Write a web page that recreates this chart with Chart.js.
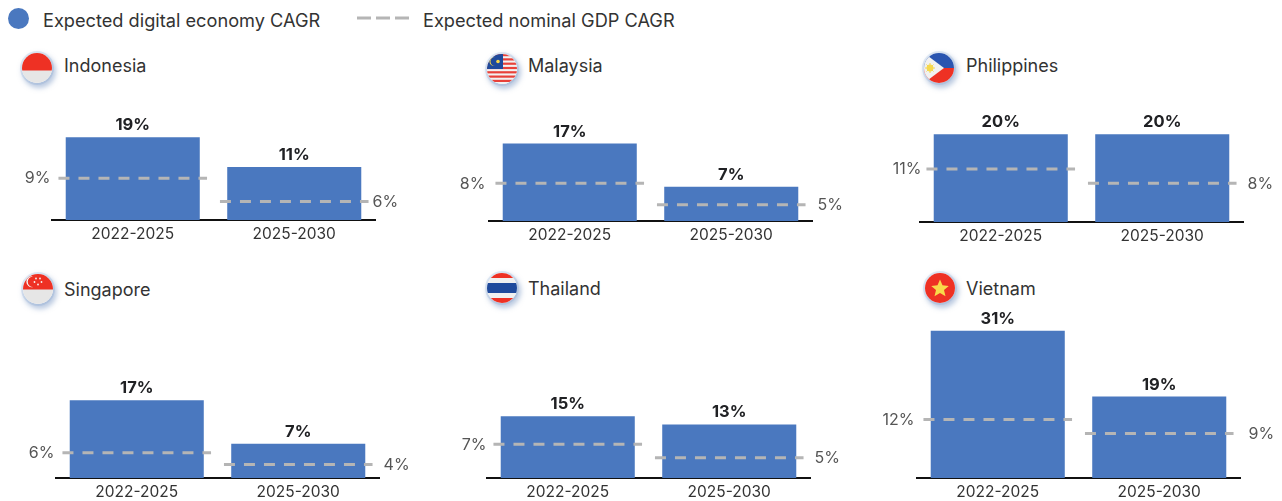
<!DOCTYPE html>
<html><head><meta charset="utf-8">
<style>
html,body{margin:0;padding:0;background:#fff;width:1282px;height:501px;overflow:hidden}
body{position:relative;font-family:Inter,Roboto,Arial,sans-serif;color:#333}
canvas{position:absolute;display:block}
.t{position:absolute;white-space:nowrap;line-height:20px;height:20px}
.flag{position:absolute;width:30px;height:30px;border-radius:50%;box-shadow:2px 3px 5px 2px rgba(120,150,195,.5),0 0 0 2px #e4ecf6}
.flag svg{display:block;width:30px;height:30px;border-radius:50%}
</style></head><body>
<div style="position:absolute;left:8px;top:8px;width:21px;height:21px;border-radius:50%;background:#4a78bf"></div>
<div class="t" id="lg1" style="left:43px;top:10px;font-size:18.2px">Expected digital economy CAGR</div>
<svg style="position:absolute;left:355px;top:15px" width="56" height="6"><line x1="2" y1="3" x2="54" y2="3" stroke="#b5b5b5" stroke-width="3" stroke-dasharray="14 5"/></svg>
<div class="t" id="lg2" style="left:423px;top:10px;font-size:18.2px">Expected nominal GDP CAGR</div>
<div id="host"></div>
<script src="https://cdn.jsdelivr.net/npm/chart.js@4/dist/chart.umd.min.js"></script>
<script>
// ---- data ----
const countries = ["Indonesia","Malaysia","Philippines","Singapore","Thailand","Vietnam"];
const periods = ["2022-2025","2025-2030"];
// printed labels
const digitalLabels = [["19%","11%"],["17%","7%"],["20%","20%"],["17%","7%"],["15%","13%"],["31%","19%"]];
const gdpLabels = [["9%","6%"],["8%","5%"],["11%","8%"],["6%","4%"],["7%","5%"],["12%","9%"]];
// drawn heights (the source slide is not strictly to scale with its labels)
const indonesiaDigital = [18.4,11.8],  indonesiaGdp = [9.3,4.1];
const malaysiaDigital = [17.2,7.6],    malaysiaGdp = [8.4,3.6];
const philippinesDigital = [19.5,19.5],philippinesGdp = [11.8,8.6];
const singaporeDigital = [17.3,7.6],   singaporeGdp = [5.6,3.0];
const thailandDigital = [13.7,11.9],   thailandGdp = [7.5,4.5];
const vietnamDigital = [32.7,18.1],    vietnamGdp = [13,9.9];
const digital = [indonesiaDigital,malaysiaDigital,philippinesDigital,singaporeDigital,thailandDigital,vietnamDigital];
const gdp = [indonesiaGdp,malaysiaGdp,philippinesGdp,singaporeGdp,thailandGdp,vietnamGdp];

// ---- layout ----
const FONT = "Inter, Roboto, Arial, sans-serif";
const PX_PER_UNIT = 4.5, AREA_H = 175, AXIS_H = 24, PAD = 50;
const layout = [
 {l:52,  r:375,  base:220, tx:64,  ty:56,  fx:22,  fy:53,  gl:8,  gr:4},
 {l:489, r:812,  base:221, tx:528, ty:56,  fx:487, fy:53.5,gl:10, gr:12},
 {l:920, r:1243, base:222, tx:966, ty:56,  fx:924, fy:53,  gl:5,  gr:11},
 {l:56,  r:379,  base:478, tx:64,  ty:280, fx:22.5,fy:274, gl:8,  gr:11},
 {l:487, r:810,  base:478, tx:528, ty:279, fx:486.5,fy:273,gl:7,  gr:11},
 {l:917, r:1240, base:478, tx:966, ty:279, fx:924.5,fy:273,gl:9,  gr:15}
];
const flags = [
 `<svg viewBox="0 0 30 30"><rect width="30" height="30" fill="#e6e6e6"/><rect width="30" height="17.5" fill="#ee3124"/></svg>`,
 `<svg viewBox="0 0 30 30"><rect width="30" height="30" fill="#f2f2f2"/><g fill="#e8413a"><rect y="0" width="30" height="2.2"/><rect y="4.3" width="30" height="2.2"/><rect y="8.6" width="30" height="2.2"/><rect y="12.9" width="30" height="2.2"/><rect y="17.2" width="30" height="2.2"/><rect y="21.5" width="30" height="2.2"/><rect y="25.8" width="30" height="2.2"/></g><rect width="16" height="15" fill="#1f4a9c"/><path d="M8 3a4.6 4.6 0 1 0 0 9a3.6 3.6 0 1 1 0-9z" fill="#f7d64a"/><circle cx="11" cy="7.5" r="1.8" fill="#f7d64a"/></svg>`,
 `<svg viewBox="0 0 30 30"><rect width="30" height="15" fill="#2a55b0"/><rect y="15" width="30" height="15" fill="#ee3124"/><path d="M0 0L20 15L0 30z" fill="#f1f1f1"/><circle cx="6" cy="15" r="3.4" fill="#f5d84e"/><g stroke="#f5d84e" stroke-width="1"><line x1="1" y1="15" x2="11" y2="15"/><line x1="6" y1="10" x2="6" y2="20"/><line x1="2.5" y1="11.5" x2="9.5" y2="18.5"/><line x1="2.5" y1="18.5" x2="9.5" y2="11.5"/></g></svg>`,
 `<svg viewBox="0 0 30 30"><rect width="30" height="30" fill="#e6e6e6"/><rect width="30" height="15.5" fill="#ee3124"/><path d="M10 2.5a5.4 5.4 0 1 0 0 10.5a4.6 4.6 0 1 1 0-10.5z" fill="#f6f6f6"/><g fill="#f6f6f6"><circle cx="13" cy="4.5" r=".9"/><circle cx="17" cy="4.5" r=".9"/><circle cx="11.5" cy="8" r=".9"/><circle cx="18.5" cy="8" r=".9"/><circle cx="15" cy="10.5" r=".9"/></g></svg>`,
 `<svg viewBox="0 0 30 30"><rect width="30" height="30" fill="#f0f0f0"/><rect width="30" height="5" fill="#ee3124"/><rect y="25" width="30" height="5" fill="#ee3124"/><rect y="10" width="30" height="10" fill="#1f4a9c"/></svg>`,
 `<svg viewBox="0 0 30 30"><rect width="30" height="30" fill="#ee3124"/><path d="M15 6.5l2.5 5.8 6.3.6-4.8 4.1 1.5 6.2-5.5-3.3-5.5 3.3 1.5-6.2-4.8-4.1 6.3-.6z" fill="#f9d94a"/></svg>`
];

const DASH_HALF = 0.46;
const valueLabels = {
  id:"valueLabels",
  afterDatasetsDraw(chart, args, o){
    const {ctx, scales:{x, y}} = chart;
    ctx.save();
    ctx.textBaseline = "middle";
    // bold labels over the bars
    ctx.font = "700 16.5px " + FONT; ctx.fillStyle = "#202124"; ctx.textAlign = "center";
    o.digital.forEach((v,i)=> ctx.fillText(o.digitalLabels[i], x.getPixelForValue(i), y.getPixelForValue(v)-12));
    // grey labels beside the dashed lines
    ctx.font = "400 16px " + FONT; ctx.fillStyle = "#555";
    ctx.textAlign = "right";
    ctx.fillText(o.gdpLabels[0], x.getPixelForValue(-DASH_HALF)-o.gl, y.getPixelForValue(o.gdp[0])+0.5);
    ctx.textAlign = "left";
    ctx.fillText(o.gdpLabels[1], x.getPixelForValue(1+DASH_HALF)+o.gr, y.getPixelForValue(o.gdp[1])+0.5);
    ctx.restore();
  }
};

const host = document.getElementById("host");
countries.forEach((name,i)=>{
  const L = layout[i];
  const flag = document.createElement("div");
  flag.className = "flag"; flag.style.left = L.fx+"px"; flag.style.top = L.fy+"px"; flag.innerHTML = flags[i];
  host.appendChild(flag);
  const t = document.createElement("div");
  t.className = "t"; t.textContent = name;
  t.style.cssText = `left:${L.tx}px;top:${L.ty}px;font-size:18px;color:#333`;
  host.appendChild(t);

  const c = document.createElement("canvas");
  const W = L.r-L.l+2*PAD, H = AREA_H+AXIS_H;
  host.appendChild(c);
  c.style.left = (L.l-PAD)+"px"; c.style.top = (L.base-AREA_H)+"px"; c.style.width = W+"px"; c.style.height = H+"px";
  c.width = W; c.height = H;

  const dash = (k)=>({
    type:"line", label:"Expected nominal GDP CAGR", order:0,
    data:[{x:k-DASH_HALF,y:gdp[i][k]},{x:k+DASH_HALF,y:gdp[i][k]}],
    borderColor:"#b5b5b5", borderWidth:3, borderDash:[11,9], pointRadius:0, fill:false, tension:0, clip:false
  });
  new Chart(c,{
    type:"bar",
    data:{datasets:[
      {label:"Expected digital economy CAGR",data:digital[i].map((v,k)=>({x:k,y:v})),backgroundColor:"#4a78bf",order:1,
       barPercentage:0.83,categoryPercentage:1},
      dash(0),dash(1)
    ]},
    plugins:[valueLabels],
    options:{
      responsive:false,animation:false,devicePixelRatio:1,
      layout:{padding:{left:PAD,right:PAD,top:0,bottom:0}},
      plugins:{legend:{display:false},tooltip:{enabled:false},
        valueLabels:{digital:digital[i],digitalLabels:digitalLabels[i],gdp:gdp[i],gdpLabels:gdpLabels[i],gl:L.gl,gr:L.gr}},
      scales:{
        x:{type:"linear",min:-0.5,max:1.5,offset:false,position:"bottom",
           afterBuildTicks(s){s.ticks=periods.map((p,k)=>({value:k}));},
           afterFit(s){s.height=AXIS_H;},
           grid:{display:false,drawTicks:false},
           border:{display:true,color:"#111",width:2},
           ticks:{color:"#333",font:{family:FONT,size:15.5,weight:"400"},padding:5,maxRotation:0,autoSkip:false,
                  callback:(v)=>periods[v]}},
        y:{type:"linear",min:0,max:AREA_H/PX_PER_UNIT,display:false}
      }
    }
  });
});
</script>
</body></html>
